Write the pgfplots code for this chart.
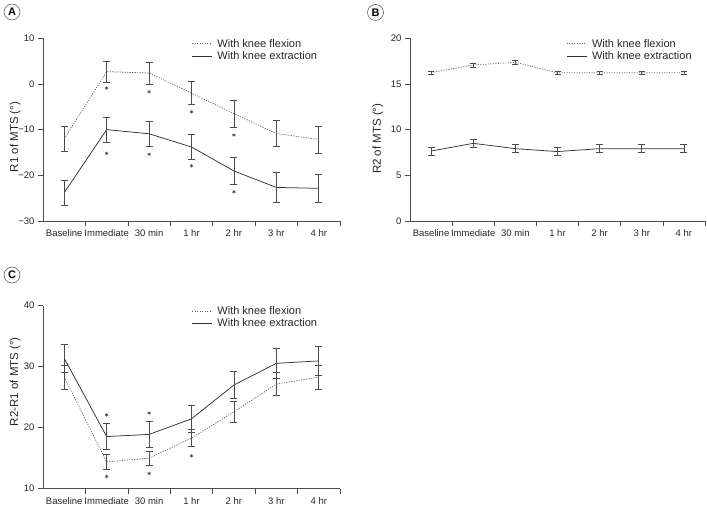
\documentclass[border=0pt]{standalone}
\usepackage{pgfplots}
\pgfplotsset{compat=1.18}
\usepackage{fontspec}
\setmainfont{Liberation Sans}

\pgfplotsset{
  mts/.style={
    scale only axis, width=297pt, height=182.7pt,
    /pgf/number format/assume math mode=true,
    axis x line*=bottom, axis y line*=left,
    every outer x axis line/.append style={-},
    every outer y axis line/.append style={-},
    axis line style={black!70, line width=0.6pt},
    xmin=-0.5, xmax=6.5,
    xtick={0,...,6},
    xticklabels={Baseline,Immediate,30 min,1 hr,2 hr,3 hr,4 hr},
    major x tick style={draw=none},
    minor xtick={0.5,1.5,...,6.5},
    tick align=outside, major tick length=5pt, minor tick length=5pt,
    tick style={black!70, line width=0.6pt},
    ticklabel style={font=\fontsize{9.5}{12}\selectfont, text=black!85},
    ylabel style={at={(axis description cs:-0.094,0.46)}, anchor=center, font=\fontsize{11.5}{13}\selectfont, text=black!85},
    legend style={draw=none, fill=none, at={(axis description cs:0.50,1.008)}, anchor=north west,
      font=\fontsize{11}{12}\selectfont, text=black!85, inner sep=0pt, row sep=-1pt,
      /tikz/every odd column/.append style={column sep=3pt}},
    legend cell align=left,
    legend image code/.code={\draw[##1] (0pt,0pt) -- (20pt,0pt);},
  },
  flex/.style={black!62, line width=0.75pt, dash pattern=on 1.1pt off 1.4pt,
    error bars/y dir=both, error bars/y explicit,
    error bars/error bar style={solid, black!70, line width=0.7pt},
    error bars/error mark options={rotate=90, mark size=3.5pt, solid, black!70, line width=0.7pt}},
  ext/.style={black!80, line width=0.75pt, solid,
    error bars/y dir=both, error bars/y explicit,
    error bars/error bar style={solid, black!70, line width=0.7pt},
    error bars/error mark options={rotate=90, mark size=3.5pt, solid, black!70, line width=0.7pt}},
  star/.style={only marks, mark=asterisk, mark size=1.8pt, black!75, line width=0.5pt, forget plot},
}

\begin{document}
\begin{tikzpicture}
\useasboundingbox (0,0) rectangle (707pt,506pt);

% Panel labels
\node[circle, draw=black!70, line width=0.5pt, minimum size=16pt, inner sep=0pt, font=\bfseries\fontsize{11}{12}\selectfont] at (12pt,494pt) {A};
\node[circle, draw=black!70, line width=0.5pt, minimum size=16pt, inner sep=0pt, font=\bfseries\fontsize{11}{12}\selectfont] at (375.5pt,493.5pt) {B};
\node[circle, draw=black!70, line width=0.5pt, minimum size=16pt, inner sep=0pt, font=\bfseries\fontsize{11}{12}\selectfont] at (12pt,231pt) {C};

% ---------------- Panel A ----------------
\begin{axis}[mts, at={(43pt,285pt)}, anchor=south west,
  ymin=-30, ymax=10, ytick={-30,-20,-10,0,10},
  yticklabels={−30,−20,−10,0,10},
  ylabel={R1 of MTS (°)}]
\addplot[flex] table[x=x, y=y, y error=e] {
x y e
0 -12.0 2.8
1 2.7 2.3
2 2.4 2.4
3 -2.0 2.55
4 -6.5 3.0
5 -10.85 2.85
6 -12.15 2.95
};
\addlegendentry{With knee flexion}
\addplot[ext] table[x=x, y=y, y error=e] {
x y e
0 -23.8 2.8
1 -10.0 2.8
2 -10.9 2.8
3 -13.8 2.8
4 -19.05 2.95
5 -22.65 3.25
6 -22.85 3.05
};
\addlegendentry{With knee extraction}
\addplot[star] coordinates {(1,-0.9) (2,-1.7) (3,-6.1) (4,-11.2) (1,-15.2) (2,-15.4) (3,-17.9) (4,-23.6)};
\end{axis}

% ---------------- Panel B ----------------
\begin{axis}[mts, at={(410pt,285pt)}, anchor=south west, width=295pt,
  ymin=0, ymax=20, ytick={0,5,10,15,20},
  ylabel style={at={(axis description cs:-0.109,0.45)}},
  legend style={at={(axis description cs:0.529,1.008)}},
  ylabel={R2 of MTS (°)}]
\addplot[flex, error bars/error mark options={rotate=90, mark size=3pt, solid, black!70, line width=0.7pt}] table[x=x, y=y, y error=e] {
x y e
0 16.24 0.18
1 17.08 0.22
2 17.37 0.18
3 16.22 0.18
4 16.22 0.18
5 16.22 0.18
6 16.22 0.18
};
\addlegendentry{With knee flexion}
\addplot[ext] table[x=x, y=y, y error=e] {
x y e
0 7.66 0.45
1 8.5 0.47
2 7.92 0.45
3 7.6 0.45
4 7.92 0.45
5 7.92 0.45
6 7.92 0.45
};
\addlegendentry{With knee extraction}
\end{axis}

% ---------------- Panel C ----------------
\begin{axis}[mts, at={(43pt,17.3pt)}, anchor=south west, height=183pt,
  ymin=10, ymax=40, ytick={10,20,30,40},
  ylabel style={at={(axis description cs:-0.094,0.585)}},
  ylabel={R2-R1 of MTS (°)}]
\addplot[flex] table[x=x, y=y, y error=e] {
x y e
0 28.3 2.0
1 14.4 1.2
2 15.0 1.2
3 18.3 1.4
4 22.6 1.7
5 27.15 1.85
6 28.3 2.0
};
\addlegendentry{With knee flexion}
\addplot[ext] table[x=x, y=y, y error=e] {
x y e
0 31.4 2.25
1 18.55 2.1
2 18.9 2.2
3 21.45 2.25
4 27.0 2.2
5 30.55 2.5
6 30.95 2.4
};
\addlegendentry{With knee extraction}
\addplot[star] coordinates {(1,22.1) (2,22.4) (1,12.0) (2,12.5) (3,15.4)};
\end{axis}
\end{tikzpicture}
\end{document}
